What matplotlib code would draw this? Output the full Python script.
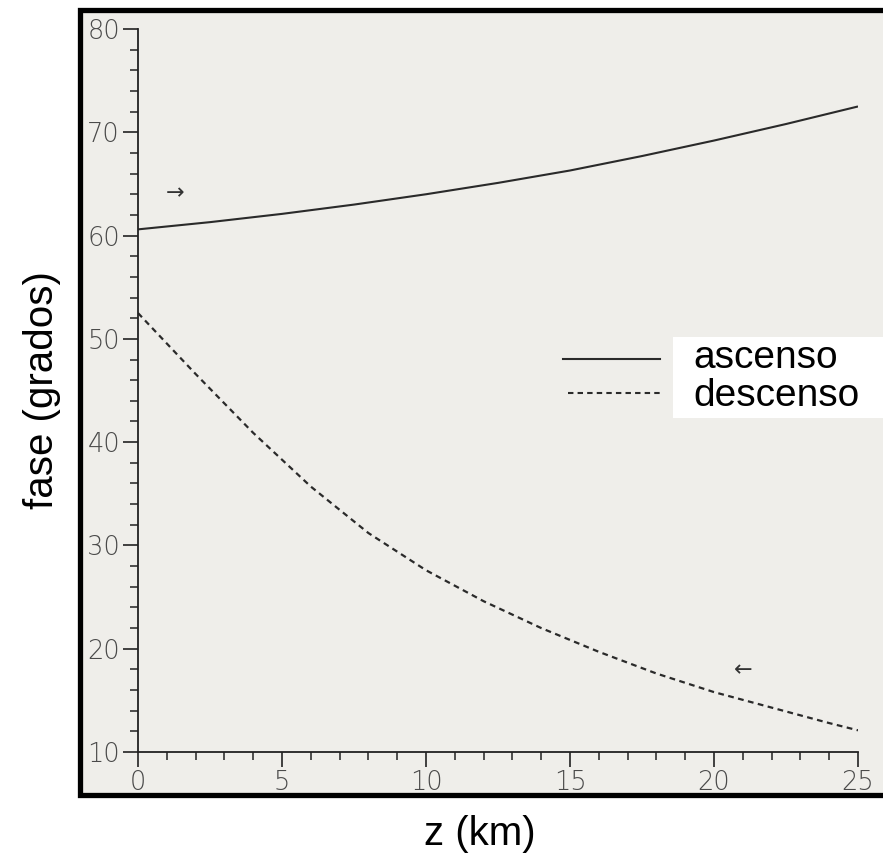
import numpy as np
import matplotlib
matplotlib.use('Agg')
import matplotlib.pyplot as plt
from matplotlib.patches import Rectangle
from matplotlib.ticker import MultipleLocator

# fase vs altura
z_asc = [0, 2.5, 5, 7.5, 10, 12.5, 15, 17.5, 20, 22.5, 25]
fase_asc = [60.6, 61.3, 62.1, 63.0, 64.0, 65.1, 66.3, 67.7, 69.2, 70.8, 72.5]

z_desc = [0, 2, 4, 6, 8, 10, 12, 14, 16, 18, 20, 22, 24, 25]
fase_desc = [52.5, 46.6, 40.9, 35.7, 31.2, 27.6, 24.6, 22.0, 19.7, 17.6, 15.8, 14.3, 12.8, 12.1]

x_ticks = [0, 5, 10, 15, 20, 25]
y_ticks = [10, 20, 30, 40, 50, 60, 70, 80]
labels = ['ascenso', 'descenso']

W, H = 883, 860
fig = plt.figure(figsize=(W / 100, H / 100), dpi=100)
fig.patch.set_facecolor('white')

# marco negro del papel escaneado
frame = Rectangle((80 / W, 1 - 795 / H), 1.0, (795 - 10) / H, transform=fig.transFigure,
                  facecolor='#efeeea', edgecolor='black', linewidth=3.8, zorder=0)
fig.patches.append(frame)
box = Rectangle((673 / W, 1 - 418 / H), 0.3, (418 - 337) / H, transform=fig.transFigure,
                facecolor='white', edgecolor='none', zorder=0.5)
fig.patches.append(box)

ax = fig.add_axes([138 / W, 1 - 752 / H, (858 - 138) / W, (752 - 29) / H])
ax.set_zorder(2)
ax.patch.set_alpha(0)
for s in ['top', 'right']:
    ax.spines[s].set_visible(False)
for s in ['left', 'bottom']:
    ax.spines[s].set_linewidth(1.3)
    ax.spines[s].set_color('#222222')

ax.set_xlim(0, 25)
ax.set_ylim(10, 80)
ax.set_xticks(x_ticks)
ax.set_yticks(y_ticks)
ax.xaxis.set_minor_locator(MultipleLocator(1))
ax.yaxis.set_minor_locator(MultipleLocator(2))
ax.tick_params(which='major', length=11, width=1.2, color='#222222', labelsize=18.5,
               labelcolor='#4a4a4a', pad=2)
ax.tick_params(which='minor', length=6, width=1.1, color='#222222')
for lab in ax.get_xticklabels() + ax.get_yticklabels():
    lab.set_fontweight('light')

ax.plot(z_asc, fase_asc, color='#2a2a2a', lw=1.5, solid_capstyle='butt')
ax.plot(z_desc, fase_desc, color='#2a2a2a', lw=1.6, dashes=(2.6, 2.0))

# flechas
ax.text(1.3, 64.1, '→', fontsize=16, ha='center', va='center', color='#333333')
ax.text(21.0, 17.9, '←', fontsize=16, ha='center', va='center', color='#333333')

# leyenda
ax.plot([(563 - 138) / 720, (660 - 138) / 720], [(752 - 359) / 723] * 2,
        transform=ax.transAxes, color='#2a2a2a', lw=1.5, clip_on=False)
ax.plot([(568 - 138) / 720, (660 - 138) / 720], [(752 - 393) / 723] * 2,
        transform=ax.transAxes, color='#2a2a2a', lw=1.5, dashes=(2.6, 2.0), clip_on=False)
fig.text(693 / W, 1 - 358 / H, labels[0], fontsize=28, family='Liberation Sans',
         va='center', ha='left', zorder=3)
fig.text(693 / W, 1 - 396 / H, labels[1], fontsize=28, family='Liberation Sans',
         va='center', ha='left', zorder=3)

fig.text(42 / W, 1 - 390 / H, 'fase (grados)', fontsize=29, family='Liberation Sans',
         rotation=90, ha='center', va='center')
fig.text(480 / W, 1 - 834 / H, 'z (km)', fontsize=29, family='Liberation Sans',
         ha='center', va='center')

fig.savefig('out.png', dpi=100)
